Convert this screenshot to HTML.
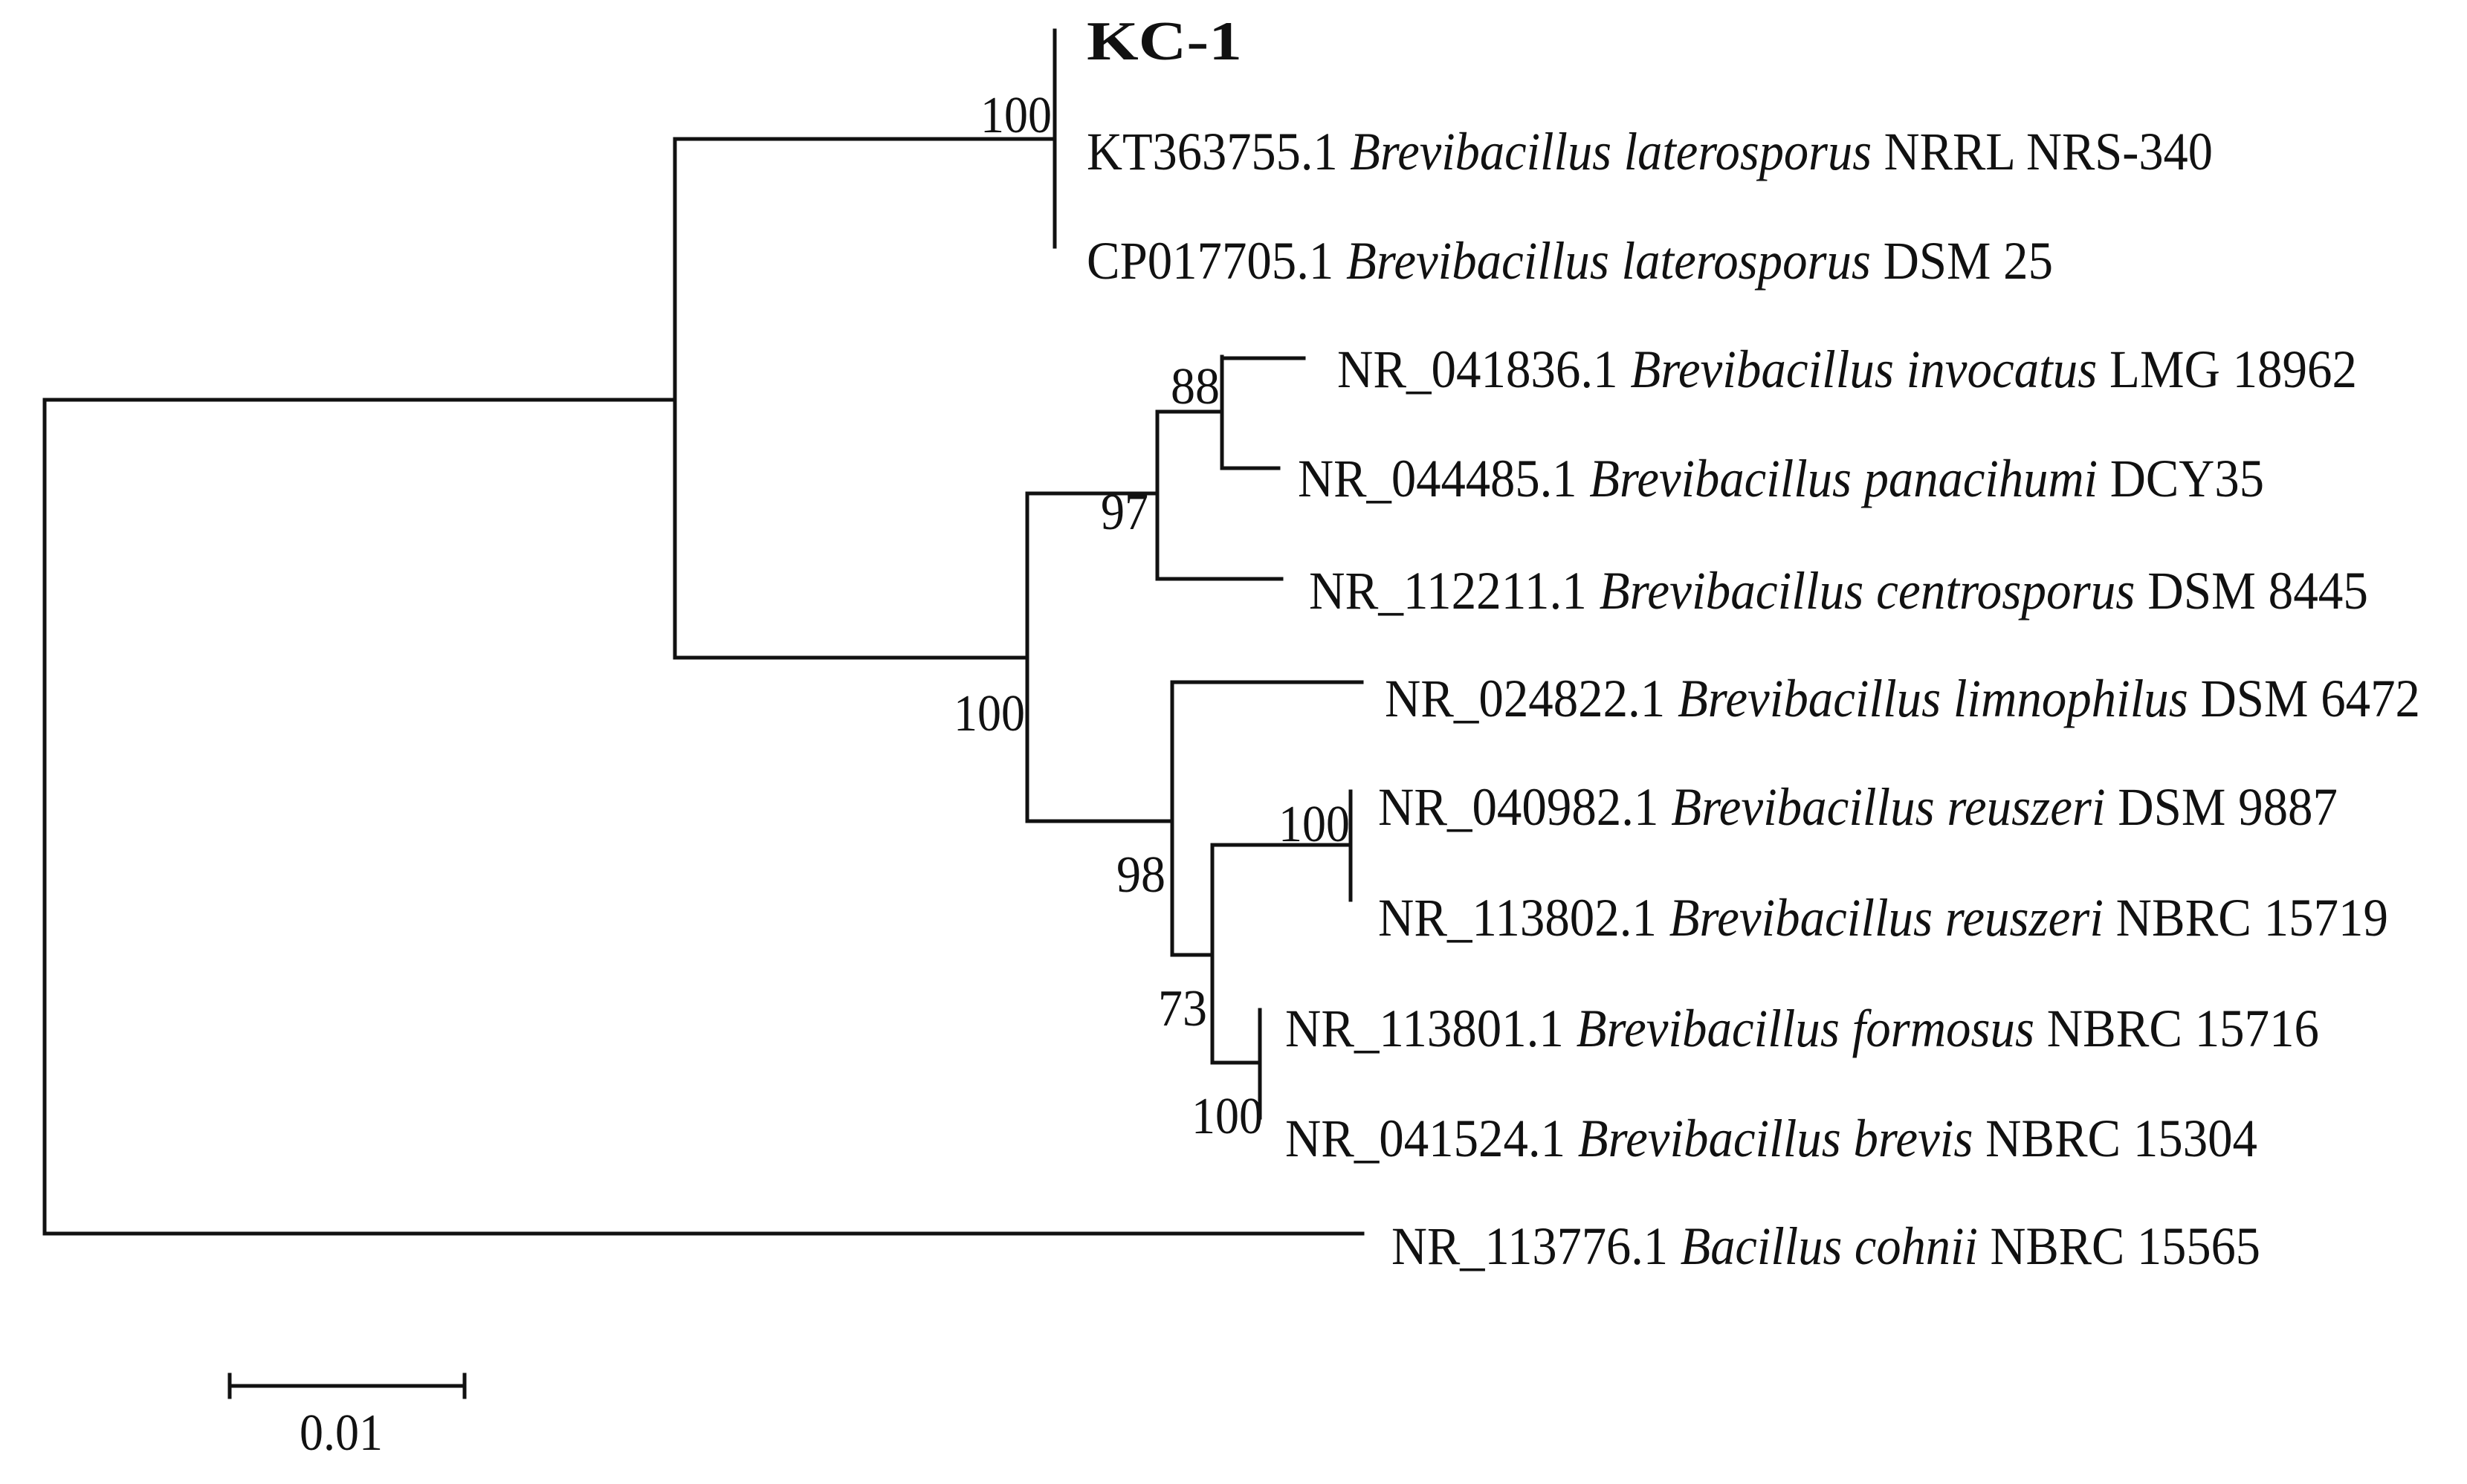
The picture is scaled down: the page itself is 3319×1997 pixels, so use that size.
<!DOCTYPE html>
<html><head><meta charset="utf-8"><style>html,body{margin:0;padding:0;background:#fff}</style></head>
<body>
<svg width="3319" height="1992" viewBox="0 0 3319 1992" xmlns="http://www.w3.org/2000/svg">
<rect width="3319" height="1992" fill="#fff"/>
<g stroke="#111" stroke-width="5" fill="none" stroke-linecap="square">
<path d="M60 538 V1660 M60 538 H908 M60 1660 H1833"/>
<path d="M908 187 V885 M908 187 H1419 M1419 41 V332"/>
<path d="M908 885 H1382 M1382 664 V1105"/>
<path d="M1382 664 H1557 M1557 554 V779 M1557 554 H1644 M1644 480 V630 M1644 482 H1754 M1644 630 H1720 M1557 779 H1724"/>
<path d="M1382 1105 H1577 M1577 918 V1285 M1577 918 H1832 M1577 1285 H1631 M1631 1137 V1430 M1631 1137 H1817 M1817 1065 V1211 M1631 1430 H1695 M1695 1359 V1504"/>
<path d="M309 1865 H625 M309 1850 V1880 M625 1850 V1880"/>
</g>
<g font-family="Liberation Serif, Times New Roman, serif" font-size="72" fill="#111">
<text x="1462" y="80" font-weight="bold" font-size="74" textLength="209" lengthAdjust="spacingAndGlyphs">KC-1</text>
<text x="1462" y="228" textLength="1515" lengthAdjust="spacingAndGlyphs">KT363755.1 <tspan font-style="italic">Brevibacillus laterosporus</tspan> NRRL NRS-340</text>
<text x="1462" y="375" textLength="1300" lengthAdjust="spacingAndGlyphs">CP017705.1 <tspan font-style="italic">Brevibacillus laterosporus</tspan> DSM 25</text>
<text x="1799" y="521" textLength="1372" lengthAdjust="spacingAndGlyphs">NR_041836.1 <tspan font-style="italic">Brevibacillus invocatus</tspan> LMG 18962</text>
<text x="1746" y="668" textLength="1300" lengthAdjust="spacingAndGlyphs">NR_044485.1 <tspan font-style="italic">Brevibacillus panacihumi</tspan> DCY35</text>
<text x="1761" y="819" textLength="1425" lengthAdjust="spacingAndGlyphs">NR_112211.1 <tspan font-style="italic">Brevibacillus centrosporus</tspan> DSM 8445</text>
<text x="1863" y="964" textLength="1393" lengthAdjust="spacingAndGlyphs">NR_024822.1 <tspan font-style="italic">Brevibacillus limnophilus</tspan> DSM 6472</text>
<text x="1854" y="1110" textLength="1291" lengthAdjust="spacingAndGlyphs">NR_040982.1 <tspan font-style="italic">Brevibacillus reuszeri</tspan> DSM 9887</text>
<text x="1854" y="1259" textLength="1359" lengthAdjust="spacingAndGlyphs">NR_113802.1 <tspan font-style="italic">Brevibacillus reuszeri</tspan> NBRC 15719</text>
<text x="1729" y="1408" textLength="1391" lengthAdjust="spacingAndGlyphs">NR_113801.1 <tspan font-style="italic">Brevibacillus formosus</tspan> NBRC 15716</text>
<text x="1729" y="1556" textLength="1308" lengthAdjust="spacingAndGlyphs">NR_041524.1 <tspan font-style="italic">Brevibacillus brevis</tspan> NBRC 15304</text>
<text x="1872" y="1701" textLength="1169" lengthAdjust="spacingAndGlyphs">NR_113776.1 <tspan font-style="italic">Bacillus cohnii</tspan> NBRC 15565</text>
</g>
<g font-family="Liberation Serif, Times New Roman, serif" font-size="70" fill="#111">
<text x="1319" y="178" textLength="96" lengthAdjust="spacingAndGlyphs">100</text>
<text x="1575" y="543" textLength="66" lengthAdjust="spacingAndGlyphs">88</text>
<text x="1481" y="712" textLength="64" lengthAdjust="spacingAndGlyphs">97</text>
<text x="1283" y="983" textLength="96" lengthAdjust="spacingAndGlyphs">100</text>
<text x="1502" y="1200" textLength="66" lengthAdjust="spacingAndGlyphs">98</text>
<text x="1720" y="1132" textLength="96" lengthAdjust="spacingAndGlyphs">100</text>
<text x="1558" y="1380" textLength="66" lengthAdjust="spacingAndGlyphs">73</text>
<text x="1603" y="1525" textLength="96" lengthAdjust="spacingAndGlyphs">100</text>
<text x="403" y="1951" textLength="112" lengthAdjust="spacingAndGlyphs">0.01</text>
</g>
</svg>
</body></html>
